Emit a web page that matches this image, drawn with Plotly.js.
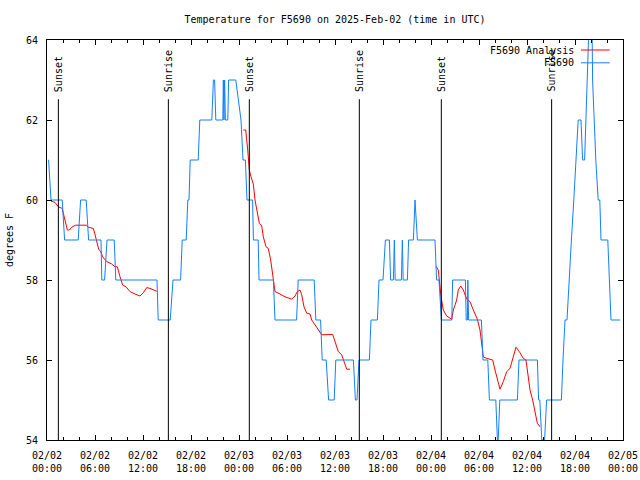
<!DOCTYPE html>
<html>
<head>
<meta charset="utf-8">
<script src="https://cdn.plot.ly/plotly-3.0.1.min.js"></script>
<style>html,body{margin:0;padding:0;background:#fff;}#chart{width:640px;height:480px;}</style>
</head>
<body>
<div id="chart"></div>
<script>
// Times are hours after 2025-02-02 00:00 UTC
const stationHours = [0.15,0.2,0.5,1.9,2.2,3.9,4.2,4.9,5.2,6.75,6.85,7.2,7.5,8.4,8.6,13.75,13.9,15.4,15.75,16.7,16.9,17.4,17.6,17.75,17.9,18.9,19.1,20.6,20.8,20.95,21.1,21.98,22.04,22.12,22.2,22.3,22.6,22.7,23.6,24.25,24.5,24.8,25.0,25.7,25.8,26.4,26.5,28.3,28.5,31.2,31.4,33.4,33.6,34.2,34.4,34.9,35.2,35.9,36.1,38.3,38.55,38.75,39.0,40.3,40.5,41.3,41.5,42.0,42.3,42.8,42.95,43.3,43.42,43.52,44.3,44.42,44.52,45.05,45.2,45.8,46.0,46.3,48.5,48.7,49.0,49.3,50.6,50.7,52.3,52.4,52.55,52.6,52.7,54.3,54.5,55.1,55.3,56.1,56.3,56.4,56.6,58.8,59.0,61.3,61.45,61.6,61.85,62.2,62.45,64.3,64.5,64.75,65.0,65.25,65.55,65.85,66.1,66.4,66.75,66.95,67.2,67.6,67.85,68.1,68.2,68.4,68.6,68.9,69.1,69.25,70.1,70.3,70.5,71.65];
const stationTemps = [61,61,60,60,59,59,60,60,59,59,58,58,59,59,58,58,57,57,58,58,59,59,60,60,61,61,62,62,63,63,62,62,63,62,63,62,62,63,63,62,61,61,60,60,59,59,58,58,57,57,58,58,57,57,56,56,55,55,56,56,55,55,56,56,57,57,58,58,59,59,58,58,59,58,58,59,58,58,59,59,60,59,59,58,58,57,57,58,58,57,57,58,57,57,56,56,55,55,54,54,55,55,56,56,55,55,54,54,55,55,56,57,57,58,59,60,61,62,62,61,61,63,65,65,63,62,61,60,60,59,59,58,57,57];

const analysisDay1Hours = [0.5,1.0,1.41,1.91,2.04,2.29,2.54,2.79,3.09,3.54,4.96,5.16,5.79,5.96,6.21,6.46,6.71,6.96,7.46,8.09,8.5,8.79,9.125,9.46,9.875,10.375,11.0,11.625,12.04,12.46,12.875,13.29,13.71];
const analysisDay1Temps = [59.97,59.94,59.83,59.79,59.67,59.42,59.25,59.25,59.32,59.37,59.37,59.32,59.29,59.17,59.0,58.77,58.71,58.58,58.46,58.4,58.33,58.33,58.08,57.875,57.83,57.71,57.65,57.6,57.68,57.81,57.79,57.75,57.72];
const analysisDay2Hours = [24.54,24.84,25.09,25.16,25.29,25.5,25.79,26.0,26.25,26.54,26.84,27.04,27.375,27.66,27.96,28.16,28.29,28.5,29.125,29.75,30.59,31.0,31.29,31.625,31.84,32.125,32.46,32.875,33.09,33.5,33.91,34.34,35.71,36.0,36.41,36.84,37.125,37.46,37.875];
const analysisDay2Temps = [61.75,61.75,61.25,61.0,60.75,60.58,60.4,60.0,59.75,59.42,59.35,59.08,58.83,58.79,58.5,58.17,58.0,57.71,57.65,57.58,57.52,57.6,57.71,57.75,57.63,57.33,57.17,57.15,57.0,56.875,56.75,56.63,56.64,56.46,56.21,56.13,55.96,55.77,55.77];
const analysisDay3Hours = [48.625,48.91,49.04,49.25,49.54,49.96,50.59,50.79,51.21,51.41,51.71,52.04,52.46,52.875,53.29,53.79,54.125,54.34,54.54,54.96,55.71,56.0,56.29,56.625,57.04,57.46,57.875,58.21,58.625,59.04,59.54,59.875,60.16,60.375,60.71,61.0,61.29,61.625];
const analysisDay3Temps = [58.35,58.25,58.0,57.58,57.25,57.1,57.02,57.25,57.5,57.75,57.85,57.75,57.52,57.46,57.25,57.02,56.75,56.33,56.08,56.04,56.0,55.75,55.5,55.27,55.46,55.71,55.79,56.04,56.32,56.21,56.04,56.0,55.58,55.25,55.0,54.75,54.42,54.33];

const sunHours = [1.42,15.17,25.29,39.04,49.29,63.08];
const sunLabels = ['Sunset','Sunrise','Sunset','Sunrise','Sunset','Sunrise'];

const seriesNames = ['F5690 Analysis','F5690'];
const seriesColors = ['#ff0000','#1080ff'];

function toDate(h){
  const d = new Date(Date.UTC(2025,1,2) + Math.round(h*3600000));
  return d.toISOString().replace('T',' ').slice(0,19);
}

// join analysis segments with null gaps
const aHours = analysisDay1Hours.concat([null], analysisDay2Hours, [null], analysisDay3Hours);
const aTemps = analysisDay1Temps.concat([null], analysisDay2Temps, [null], analysisDay3Temps);

const FONT = 'DejaVu Sans Mono';

const traces = [
  {x: aHours.map(h => h===null?null:toDate(h)), y: aTemps, type:'scatter', mode:'lines',
   name: seriesNames[0], line:{color:seriesColors[0], width:1}, connectgaps:false, showlegend:false, hoverinfo:'skip'},
  {x: stationHours.map(toDate), y: stationTemps, type:'scatter', mode:'lines',
   name: seriesNames[1], line:{color:seriesColors[1], width:1}, showlegend:false, hoverinfo:'skip'}
];

const shapes = [];
const annotations = [];
sunHours.forEach((h,i) => {
  shapes.push({type:'line', xref:'x', yref:'y', x0:toDate(h), x1:toDate(h), y0:54, y1:62.52,
               line:{color:'black', width:1}});
  annotations.push({xref:'x', yref:'y', x:toDate(h), y:62.68, text:sunLabels[i], textangle:-90,
                    showarrow:false, xanchor:'center', yanchor:'bottom', borderpad:0,
                    font:{family:FONT, size:10, color:'black'}});
});

// gnuplot-style key: text right-aligned, sample line to the right
const keyRowsY = [0.975, 0.943];
seriesNames.forEach((n,i) => {
  annotations.push({xref:'paper', yref:'paper', x:0.919, y:keyRowsY[i], text:n, showarrow:false,
                    xanchor:'right', yanchor:'middle', font:{family:FONT, size:10, color:'black'}});
  shapes.push({type:'line', xref:'paper', yref:'paper', x0:0.927, x1:0.977, y0:keyRowsY[i], y1:keyRowsY[i],
               line:{color:seriesColors[i], width:1}});
});

const axisCommon = {
  showline:true, linecolor:'black', linewidth:1, mirror:'allticks',
  ticks:'inside', ticklen:5, tickwidth:1, tickcolor:'black',
  showgrid:false, zeroline:false,
  tickfont:{family:FONT, size:10, color:'black'}
};

const layout = {
  width:640, height:480,
  margin:{l:47, r:17, t:40, b:40, pad:0},
  paper_bgcolor:'white', plot_bgcolor:'white',
  font:{family:FONT, size:10, color:'black'},
  title:{text:'Temperature for F5690 on 2025-Feb-02 (time in UTC)', xref:'paper', x:0.5, xanchor:'center',
         yref:'container', y:1-19/480, yanchor:'middle', font:{family:FONT, size:10, color:'black'}},
  xaxis: Object.assign({}, axisCommon, {
    type:'date', range:['2025-02-02 00:00:00','2025-02-05 00:00:00'],
    tick0:'2025-02-02 00:00:00', dtick:6*3600000, tickformat:'%m/%d<br>%H:%M',
    ticklabelstandoff:6,
    minor:{dtick:2*3600000, tick0:'2025-02-02 00:00:00', ticks:'inside', ticklen:3, tickcolor:'black', showgrid:false}
  }),
  yaxis: Object.assign({}, axisCommon, {
    range:[54,64], tick0:54, dtick:2, ticklabelstandoff:6,
    title:{text:'degrees F', standoff:10, font:{family:FONT, size:10, color:'black'}}
  }),
  showlegend:false,
  shapes: shapes,
  annotations: annotations
};

Plotly.newPlot('chart', traces, layout, {staticPlot:true, displayModeBar:false});
</script>
</body>
</html>
